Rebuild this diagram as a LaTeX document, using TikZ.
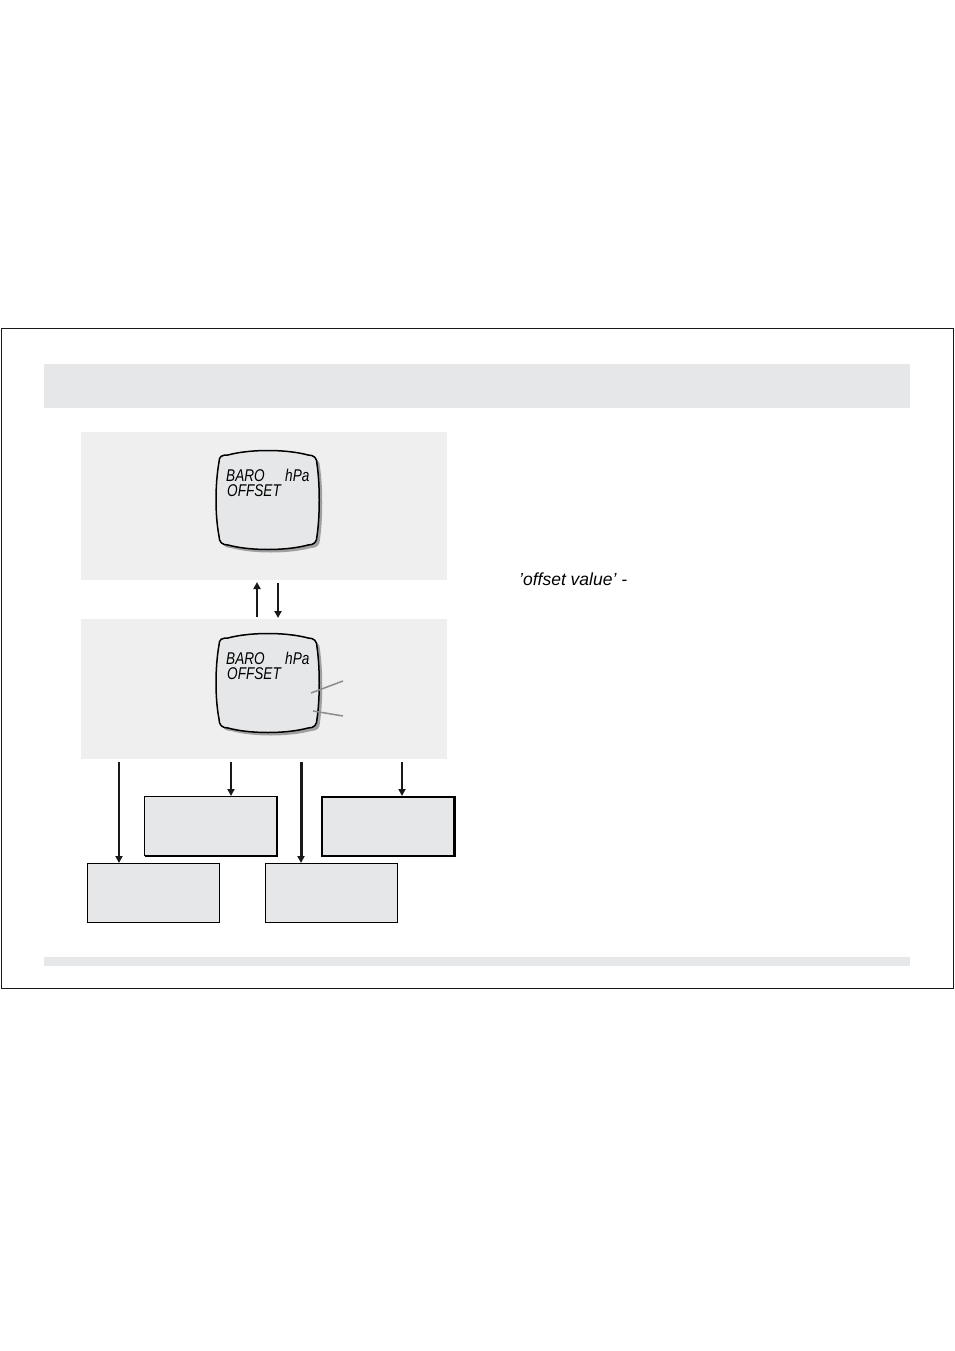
\documentclass[tikz,border=0pt]{standalone}
\usepackage{fontspec}
\setmainfont{Liberation Sans}
\newfontfamily\lcdfont[FakeStretch=0.8]{Liberation Sans}
\usetikzlibrary{arrows.meta}
\definecolor{bandgray}{HTML}{E6E7E8}
\definecolor{panelgray}{HTML}{EFEFEF}
\definecolor{shadowgray}{HTML}{A0A0A0}
\definecolor{leadgray}{HTML}{8C8C8C}
\tikzset{
  band/.style={fill=bandgray, draw=none, inner sep=0pt, anchor=north west},
  panel/.style={fill=panelgray, draw=none, inner sep=0pt, anchor=north west, minimum width=366pt},
  outbox/.style={fill=bandgray, draw=black, line width=1pt, inner sep=0pt, anchor=north west, minimum width=132pt, minimum height=59pt},
  arr/.style={draw=black!90, line width=2pt, -{Triangle[length=7pt,width=7pt]}},
  lcdtext/.style={font=\lcdfont\itshape\fontsize{17}{14}\selectfont, inner sep=0pt, anchor=base west},
  lead/.style={draw=leadgray, line width=1.5pt}
}
\newcommand{\lcdshape}[1]{%
  \path[#1] (219,462) .. controls (219,456) and (222,455) .. (228,455)
    .. controls (250,449) and (286,449) .. (308,455)
    .. controls (314,455) and (317,458) .. (317,464)
    .. controls (320,485) and (320,515) .. (317,536)
    .. controls (317,542) and (314,545) .. (308,545)
    .. controls (286,551) and (250,551) .. (228,545)
    .. controls (222,545) and (219,542) .. (219,536)
    .. controls (215,515) and (215,485) .. (219,462) -- cycle;}
\begin{document}
\begin{tikzpicture}[x=1pt,y=-1pt]
\useasboundingbox (0,0) rectangle (954,1351);
% frame
\node[draw=black!90, line width=1.2pt, inner sep=0pt, anchor=north west, minimum width=952pt, minimum height=660pt] (frame) at (1,328) {};
\node[band, minimum width=866pt, minimum height=44pt] (header) at (44,364) {};
\node[band, minimum width=866pt, minimum height=9pt] (footer) at (44,957) {};
% panels
\node[panel, minimum height=148pt] (p1) at (81,432) {};
\node[panel, minimum height=140pt] (p2) at (81,619) {};
% displays
\begin{scope}
  \begin{scope}[shift={(3,3)}]\lcdshape{fill=shadowgray}\end{scope}
  \lcdshape{fill=bandgray, draw=black, line width=1.5pt}
  \node[lcdtext] (b1) at (226,481) {BARO};
  \node[lcdtext] (h1) at (285,481) {hPa};
  \node[lcdtext] (o1) at (227,496) {OFFSET};
\end{scope}
\begin{scope}[shift={(0,183)}]
  \begin{scope}[shift={(3,3)}]\lcdshape{fill=shadowgray}\end{scope}
  \lcdshape{fill=bandgray, draw=black, line width=1.5pt}
  \node[lcdtext] (b2) at (226,481) {BARO};
  \node[lcdtext] (h2) at (285,481) {hPa};
  \node[lcdtext] (o2) at (227,496) {OFFSET};
  \coordinate (l1a) at (311,510); \coordinate (l1b) at (343,498);
  \coordinate (l2a) at (313,528); \coordinate (l2b) at (343,533);
  \draw[lead] (l1a) -- (l1b);
  \draw[lead] (l2a) -- (l2b);
\end{scope}
% arrows between panels
\draw[arr] (257,617) coordinate (u0) -- (257,582) coordinate (u1);
\draw[arr] (278,583) coordinate (d0) -- (278,618) coordinate (d1);
% output boxes
\node[outbox] (A) at (144,796) {};
\draw[line width=1.5pt] ([xshift=0.5pt]A.south west) -- ([xshift=0.5pt]A.south east) -- ([xshift=0.5pt]A.north east);
\node[outbox, line width=1.5pt] (B) at (321,796) {};
\draw[line width=1.5pt] ([xshift=0.5pt]B.south west) -- ([xshift=0.5pt]B.south east) -- ([xshift=0.5pt]B.north east);
\node[outbox] (C) at (87,863) {};
\node[outbox] (D) at (265,863) {};
% arrows to boxes
\coordinate (s1) at (119,762);
\coordinate (s2) at (231,762);
\coordinate (s3) at (301,762);
\coordinate (s4) at (402,762);
\draw[arr] (s1) -- (s1 |- C.north);
\draw[arr] (s2) -- (s2 |- A.north);
\draw[arr, line width=3pt] (s3) -- (s3 |- D.north);
\draw[arr] (s4) -- (s4 |- B.north);
% text
\node[font=\itshape\fontsize{17.5}{20}\selectfont, anchor=base west, inner sep=0pt] (ov) at (519,585) {\char39offset value\char39{} -};
\end{tikzpicture}
\end{document}
